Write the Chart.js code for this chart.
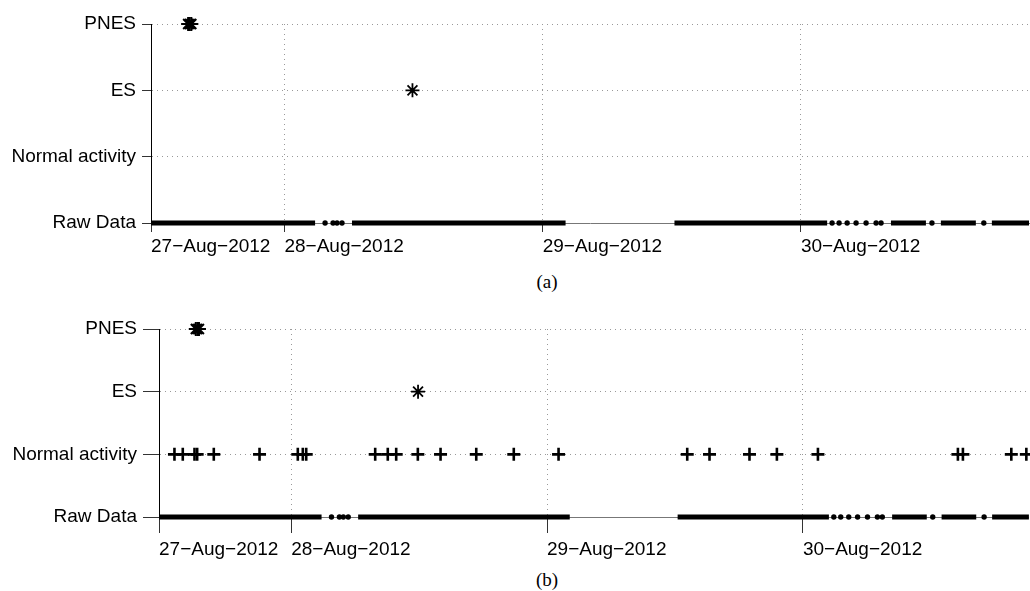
<!DOCTYPE html>
<html>
<head>
<meta charset="utf-8">
<script src="https://cdn.jsdelivr.net/npm/chart.js@4"></script>
<style>
  body { margin: 0; background: #fff; width: 1030px; height: 591px; overflow: hidden; position: relative; }
  .panel { position: absolute; left: 0; width: 1038px; }
  .caption { position: absolute; font: 19px "Liberation Serif", "Times New Roman", serif; color: #000; transform: translate(-50%, -50%); }
</style>
</head>
<body>
<div class="panel" style="top:0;height:263px"><canvas id="chart-a"></canvas></div>
<div class="panel" style="top:296px;height:266px"><canvas id="chart-b"></canvas></div>
<div class="caption" style="left:547px;top:282px">(a)</div>
<div class="caption" style="left:547px;top:580px">(b)</div>
<script>
// time is in hours from 27-Aug-2012 00:00
var levels = ["Raw Data", "Normal activity", "ES", "PNES"];
var dayLabels = ["27\u2212Aug\u22122012", "28\u2212Aug\u22122012", "29\u2212Aug\u22122012", "30\u2212Aug\u22122012"];
var tickHours = [11.6, 24, 48, 72];
var hourMin = 11.6;
var hourMax = 93.2;

// stretches where the raw recording is dense, and lone samples between them
var rawSegments = [[11.6, 26.85], [30.28, 50.13], [60.25, 74.44], [80.37, 83.62], [85.01, 88.26], [89.75, 93.2]];
var rawDots = [27.78, 28.52, 28.89, 29.35, 74.9, 75.55, 76.3, 77.13, 78.06, 78.99, 79.45, 84.18, 89.0];

var pnesHours = [15.05, 15.2, 15.35];
var esHours = [35.9];
var normalHours = [13.05, 13.83, 14.93, 15.18, 16.74, 21.03, 24.62, 25.09, 25.41, 31.88, 33.06, 33.85,
  35.88, 38.01, 41.36, 44.88, 49.08, 61.15, 63.24, 66.99, 69.56, 73.41, 86.54, 87.01, 91.55, 92.96];

Chart.defaults.font.family = '"Liberation Sans", Arial, Helvetica, sans-serif';
Chart.defaults.font.size = 19;
Chart.defaults.color = "#000";

function atLevel(hours, level) {
  return hours.map(function (h) { return { x: h, y: level }; });
}

function segmentPoints() {
  var pts = [];
  rawSegments.forEach(function (s) {
    pts.push({ x: s[0], y: 1 }, { x: s[1], y: 1 }, { x: s[1], y: null });
  });
  return pts;
}

// p: leftEdge, topPad, tickLen, xPad, xHeight, withNormal
function makePanel(id, p) {
  var datasets = [
    { data: segmentPoints(), showLine: true, borderColor: "#000", borderWidth: 5, borderCapStyle: "butt",
      pointRadius: 0, spanGaps: false, clip: false },
    { data: atLevel(rawDots, 1), pointRadius: 2.7, pointStyle: "circle", backgroundColor: "#000",
      borderWidth: 0, clip: false },
    { data: atLevel(pnesHours, 4), pointStyle: "star", pointRadius: 7, borderColor: "#000",
      borderWidth: 2, clip: false },
    { data: atLevel(esHours, 3), pointStyle: "star", pointRadius: 7, borderColor: "#000",
      borderWidth: 1.8, clip: false },
  ];
  if (p.withNormal) {
    datasets.push({ data: atLevel(normalHours, 2), pointStyle: "cross", pointRadius: 6.5,
      borderColor: "#000", borderWidth: 2.6, clip: false });
  }

  var grid = { color: "#999", lineWidth: 1, tickColor: "#333", tickLength: p.tickLen, tickWidth: 1 };

  return new Chart(document.getElementById(id), {
    type: "scatter",
    data: { datasets: datasets },
    options: {
      responsive: true,
      maintainAspectRatio: false,
      animation: false,
      devicePixelRatio: 1,
      layout: { padding: { top: p.topPad, right: 0, bottom: 0, left: 0 } },
      plugins: { legend: { display: false }, tooltip: { enabled: false } },
      scales: {
        x: {
          type: "linear",
          min: hourMin,
          max: hourMax,
          afterBuildTicks: function (s) {
            s.ticks = tickHours.map(function (v) { return { value: v }; });
          },
          afterFit: function (s) { s.height = p.xHeight; },
          ticks: {
            align: "start",
            autoSkip: false,
            maxRotation: 0,
            padding: p.xPad,
            callback: function (v, i) { return dayLabels[i]; },
          },
          grid: grid,
          border: { display: true, color: "#777", width: 1, dash: [1, 4] },
        },
        y: {
          type: "linear",
          min: 1,
          max: 4,
          afterBuildTicks: function (s) {
            s.ticks = [1, 2, 3, 4].map(function (v) { return { value: v }; });
          },
          afterFit: function (s) { s.width = p.leftEdge; },
          ticks: {
            padding: 6,
            callback: function (v) { return levels[v - 1]; },
          },
          grid: grid,
          border: { display: true, color: "#000", width: 1, dash: [1, 4] },
        },
      },
    },
  });
}

makePanel("chart-a", { leftEdge: 151, topPad: 24, tickLen: 9, xPad: 3, xHeight: 40, withNormal: false });
makePanel("chart-b", { leftEdge: 159, topPad: 33, tickLen: 16, xPad: 5, xHeight: 45, withNormal: true });
</script>
</body>
</html>
